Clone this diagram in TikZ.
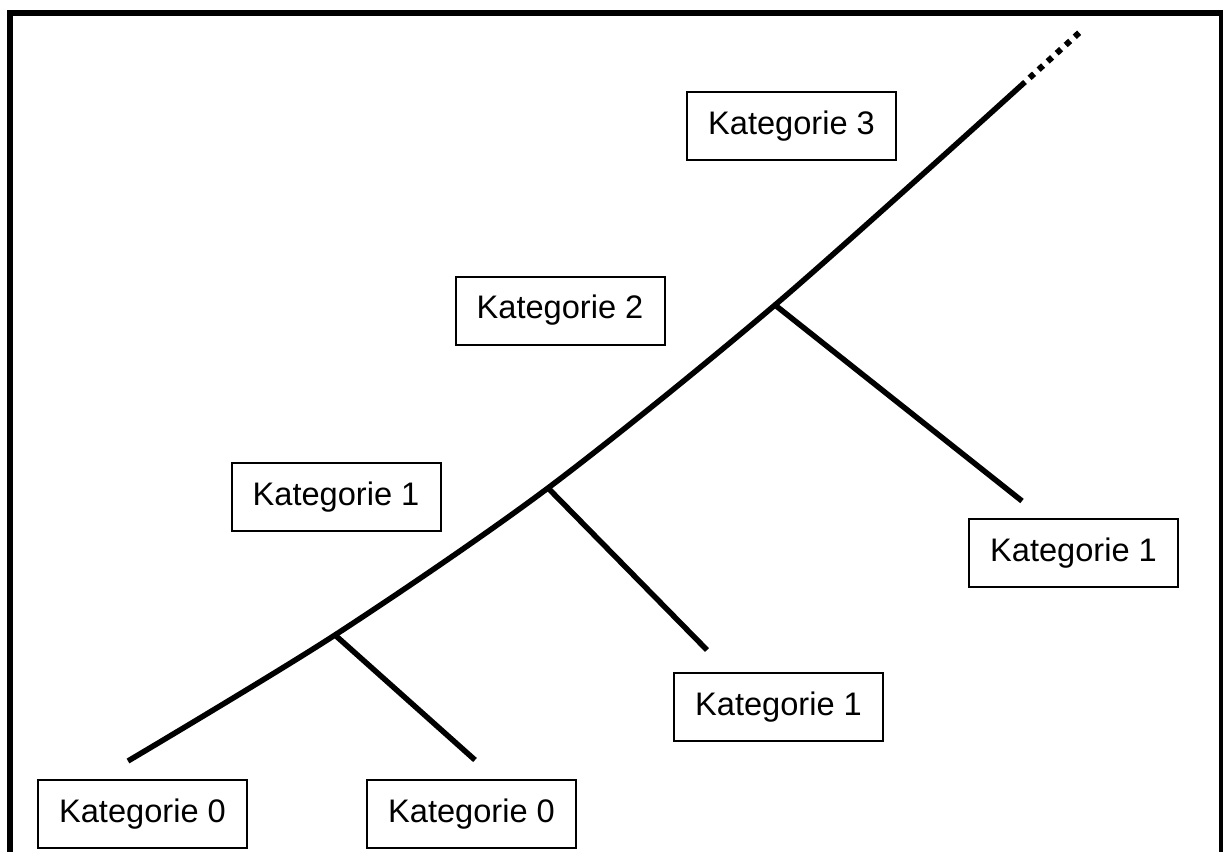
\documentclass[tikz,border=0pt]{standalone}
\usepackage{fontspec}
\setmainfont{Liberation Sans}
\begin{document}
\begin{tikzpicture}[x=0.5pt,y=-0.5pt,
  catbox/.style={draw=black, line width=1pt, minimum width=104.5pt, minimum height=34pt,
    inner sep=0pt, font=\fontsize{16.3pt}{19pt}\selectfont},
  trunkline/.style={line width=2.75pt, line cap=butt},
  dotline/.style={line width=3pt, line cap=butt, dash pattern=on 3pt off 3.1pt, dash phase=3pt},
  frameline/.style={line width=2.75pt}]
\useasboundingbox (0,0) rectangle (1223,852);
\fill[white] (0,0) rectangle (1223,852);
% frame (open at the bottom)
\draw[frameline] (10,852) -- (10,13) -- (1222,13) -- (1222,852);
% coordinates
\coordinate (b) at (128,761);
\coordinate (j0) at (335,635);
\coordinate (j1) at (548,488);
\coordinate (j2) at (775,305);
\coordinate (t) at (1025,82);
\coordinate (d) at (1079.2,32.7);
\coordinate (e0) at (475,760);
\coordinate (e1) at (707,650);
\coordinate (e2) at (1022,501);
% boxes
\node[catbox] (k3) at (791.5,126) {Kategorie 3};
\node[catbox] (k2) at (560,310.5) {Kategorie 2};
\node[catbox] (k1l) at (336,497) {Kategorie 1};
\node[catbox] (k1r) at (1073.5,553) {Kategorie 1};
\node[catbox] (k1m) at (778.5,707) {Kategorie 1};
\node[catbox] (k0a) at (142.5,814) {Kategorie 0};
\node[catbox] (k0b) at (471.5,814) {Kategorie 0};
% trunk
\draw[trunkline] plot[smooth, tension=0.5] coordinates {(b) (j0) (j1) (j2) (t)};
\draw[dotline] (t) -- (d);
% branches
\draw[trunkline] (j0) -- (e0);
\draw[trunkline] (j1) -- (e1);
\draw[trunkline] (j2) -- (e2);
\end{tikzpicture}
\end{document}
